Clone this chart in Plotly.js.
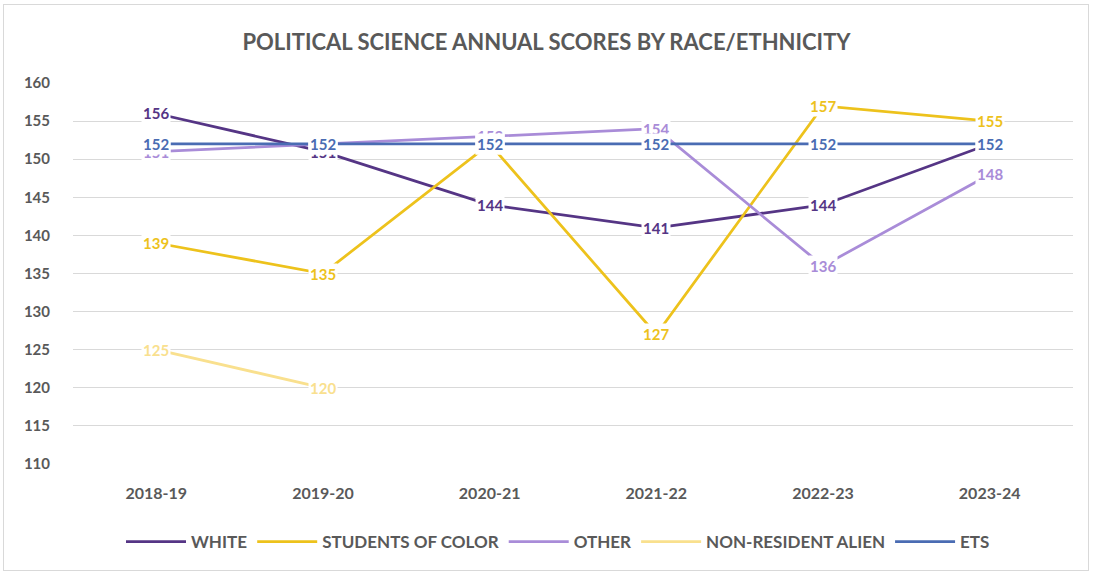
<!DOCTYPE html>
<html>
<head>
<meta charset="utf-8">
<script src="https://cdn.plot.ly/plotly-3.0.1.min.js"></script>
<style>
html,body{margin:0;padding:0;background:#fff;}
#wrap{position:absolute;left:3px;top:4px;width:1084px;height:565px;border:1px solid #d9d9d9;}
#chart{position:absolute;left:0;top:0;width:1093px;height:575px;}
</style>
</head>
<body>
<div id="wrap"></div>
<div id="chart"></div>
<script>
const categories = ['2018-19','2019-20','2020-21','2021-22','2022-23','2023-24'];
const white = [156,151,144,141,144,152];
const studentsOfColor = [139,135,152,127,157,155];
const other = [151,152,153,154,136,148];
const nonResidentAlien = [125,120,null,null,null,null];
const ets = [152,152,152,152,152,152];
const yTicks = [110,115,120,125,130,135,140,145,150,155,160];

const seriesNames = ['WHITE','STUDENTS OF COLOR','OTHER','NON-RESIDENT ALIEN','ETS'];
const seriesData = [white, studentsOfColor, other, nonResidentAlien, ets];
const colors = ['#553585','#EDC21C','#A98CD8','#F9E08E','#4A6CB3'];

const FONT = 'Lato, "Open Sans", sans-serif';

const traces = seriesNames.map((n,i)=>({
  type:'scatter', mode:'lines', name:n, x:categories, y:seriesData[i],
  line:{color:colors[i], width:2.75}, connectgaps:false, hoverinfo:'skip'
}));

const annotations = [];
seriesData.forEach((arr,i)=>{
  arr.forEach((v,j)=>{
    if(v===null) return;
    annotations.push({x:categories[j], y:v, xref:'x', yref:'y', text:String(v),
      showarrow:false, bgcolor:'#ffffff', borderpad:1,
      font:{family:FONT, size:15, color:colors[i], weight:700}});
  });
});

const layout = {
  width:1093, height:575,
  paper_bgcolor:'rgba(0,0,0,0)', plot_bgcolor:'rgba(0,0,0,0)',
  margin:{l:73, r:20, t:83, b:111},
  title:{text:'POLITICAL SCIENCE ANNUAL SCORES BY RACE/ETHNICITY', x:0.5, xanchor:'center', y:0.927, yanchor:'middle',
    font:{family:FONT, size:22, color:'#595959', weight:700}},
  xaxis:{type:'category', range:[-0.5,5.5], showgrid:false, zeroline:false, showline:false, ticks:'',
    tickfont:{family:FONT, size:16, color:'#595959', weight:700}, ticklabelstandoff:18},
  yaxis:{range:[110,160], tickvals:yTicks, ticktext:yTicks.map(String), showgrid:true, gridcolor:'#d9d9d9', gridwidth:1,
    zeroline:false, showline:false, ticks:'', tickfont:{family:FONT, size:15, color:'#595959', weight:700}, ticklabelstandoff:22},
  showlegend:true,
  legend:{orientation:'h', x:0.485, xanchor:'center', y:-0.205, yanchor:'middle',
    font:{family:FONT, size:17, color:'#595959', weight:700}, itemwidth:60, tracegroupgap:0},
  annotations:annotations
};

Plotly.newPlot('chart', traces, layout, {displayModeBar:false, staticPlot:true});
</script>
</body>
</html>
